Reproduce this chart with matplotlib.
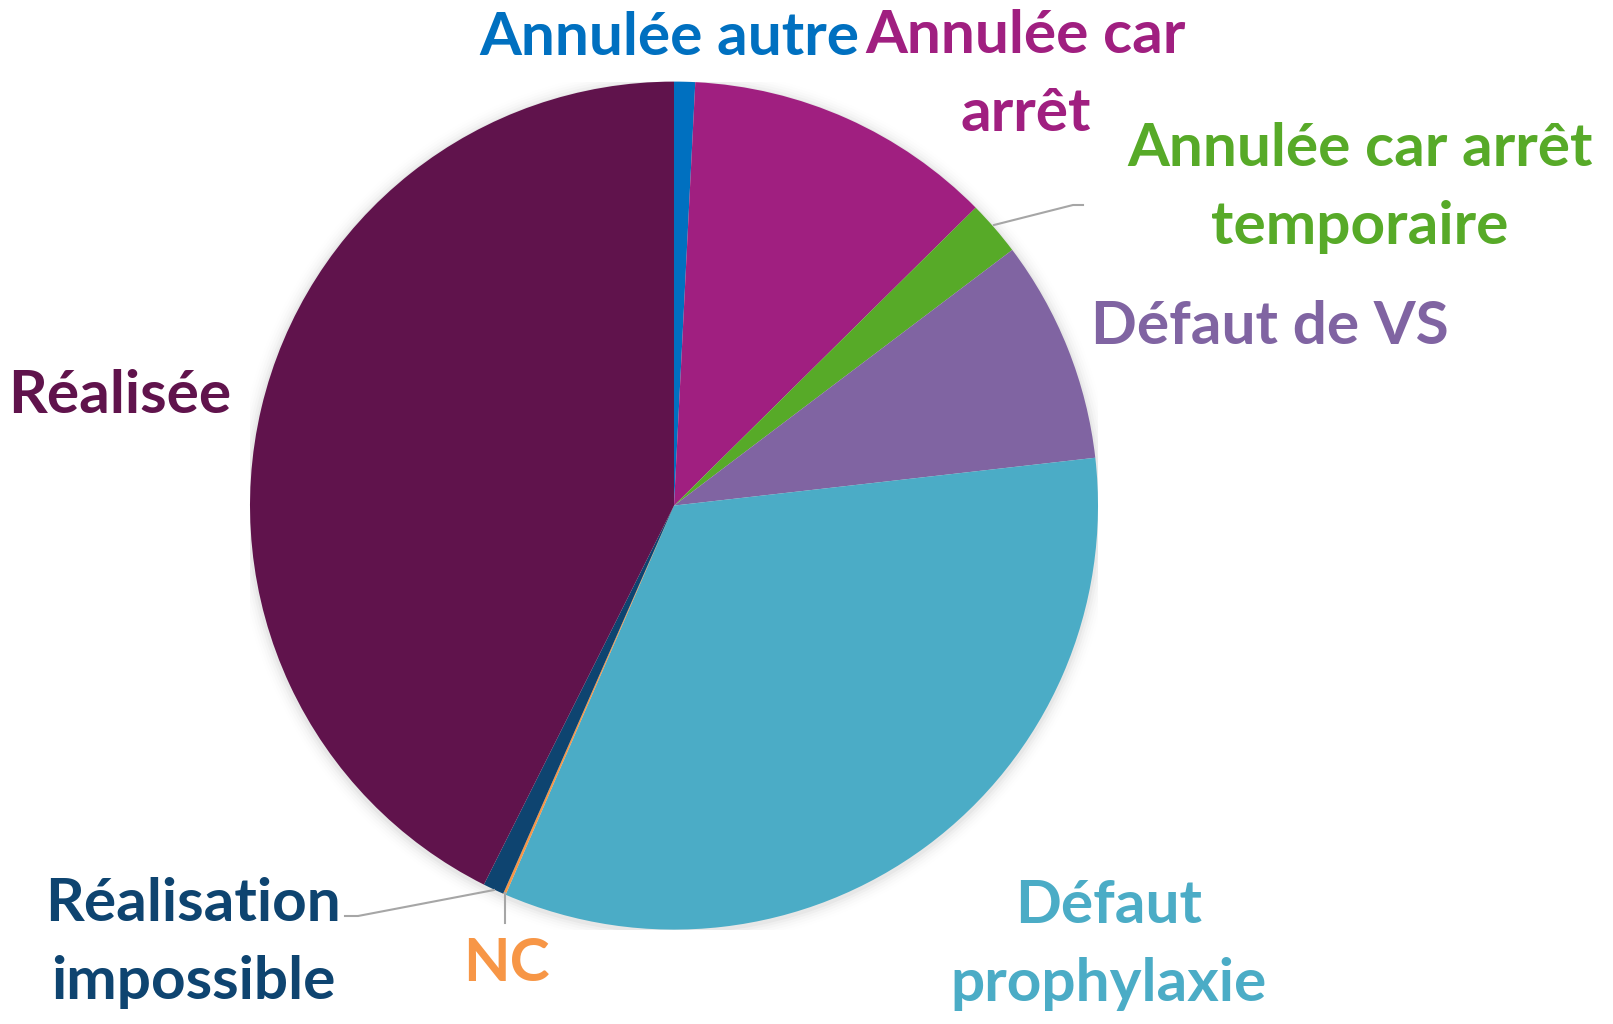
import matplotlib
matplotlib.use("Agg")
import matplotlib.pyplot as plt
from matplotlib.patches import Circle

categories = ["Annulée autre", "Annulée car arrêt", "Annulée car arrêt temporaire",
              "Défaut de VS", "Défaut prophylaxie", "NC", "Réalisation impossible", "Réalisée"]
values = [0.8, 11.8, 2.1, 8.5, 33.3, 0.1, 0.8, 42.6]
colors = ["#0070C0", "#A01F80", "#57AA28", "#8064A2", "#4BACC6", "#F79646", "#0E4470", "#60134C"]
label_texts = ["Annulée autre", "Annulée car\narrêt", "Annulée car arrêt\ntemporaire",
               "Défaut de VS", "Défaut\nprophylaxie", "NC", "Réalisation\nimpossible", "Réalisée"]

W, H = 1613, 1024
fig = plt.figure(figsize=(W / 100, H / 100), dpi=100)
cx, cy, r = 674, 505.6, 424
ax = fig.add_axes([(cx - r) / W, (H - cy - r) / H, 2 * r / W, 2 * r / H])
ax.set_xlim(-1, 1)
ax.set_ylim(-1, 1)
ax.set_aspect("equal")
ax.axis("off")

# soft shadow
for i, a in enumerate([0.03, 0.022, 0.016, 0.011, 0.007, 0.004]):
    ax.add_patch(Circle((0.0, -0.004), 1.0 + 0.006 * (i + 1), color="black", alpha=a, lw=0, zorder=0))

ax.pie(values, colors=colors, startangle=90, counterclock=False, radius=1,
       wedgeprops=dict(linewidth=0), frame=False)
ax.set_xlim(-1, 1)
ax.set_ylim(-1, 1)

font = ["Lato", "DejaVu Sans"]
pos = [(669, 38), (1026, 75), (1360, 188), (1270, 327), (1109, 945), (506, 964), (193, 943), (120, 396)]
for txt, (x, y), c in zip(label_texts, pos, colors):
    fig.text(x / W, 1 - y / H, txt, color=c, fontsize=43.5, fontweight="bold", family=font,
             ha="center", va="center", linespacing=1.56)

def line(pts):
    xs = [p[0] / W for p in pts]
    ys = [1 - p[1] / H for p in pts]
    fig.add_artist(plt.Line2D(xs, ys, color="#A6A6A6", lw=1.5))

line([(994, 225), (1073, 205), (1083, 205)])
line([(494, 890), (358, 916), (345, 916)])
line([(505, 893), (505, 923)])

fig.savefig("out.png", dpi=100, facecolor="white")
